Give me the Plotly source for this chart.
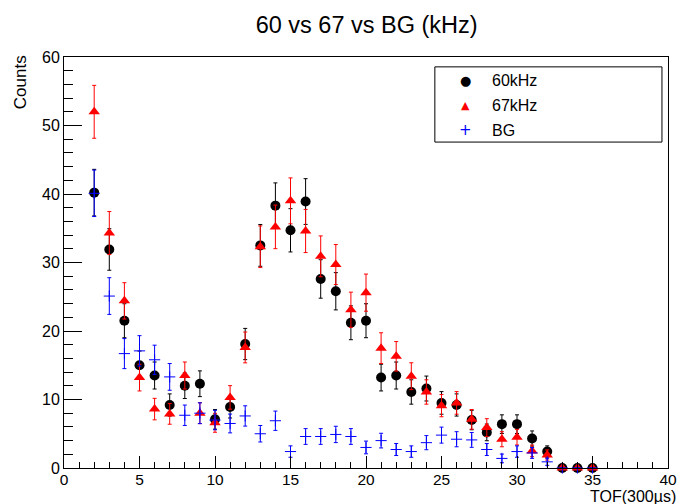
import plotly.graph_objects as go

# Time-of-flight bins (units of 300 us)
tof = list(range(2, 36))

# Counts per bin for each run
counts_60k = [40.2, 31.9, 21.5, 15.0, 13.5, 9.2, 12.0, 12.3, 7.1, 8.9, 18.1, 32.5, 38.3, 34.7,
              38.9, 27.6, 25.8, 21.2, 21.5, 13.2, 13.5, 11.1, 11.6, 9.5, 9.2, 7.0, 5.2, 6.4,
              6.4, 4.3, 2.4, 0, 0, 0]
err_60k = [3.40, 3.03, 2.48, 2.07, 1.97, 1.62, 1.86, 1.88, 1.43, 1.60, 2.28, 3.05, 3.32, 3.16,
           3.34, 2.81, 2.72, 2.47, 2.48, 1.95, 1.97, 1.78, 1.82, 1.65, 1.62, 1.42, 1.22, 1.36,
           1.36, 1.11, 0.83, 0, 0, 0]

counts_67k = [52.0, 34.3, 24.4, 13.2, 8.6, 7.9, 13.5, 8.0, 6.6, 10.3, 17.6, 32.3, 35.2, 39.0,
              34.6, 30.9, 29.7, 23.1, 25.6, 17.5, 16.3, 13.4, 11.1, 9.1, 9.5, 7.1, 5.9, 4.2,
              4.5, 2.5, 1.9, 0, 0, 0]
err_67k = [3.86, 3.14, 2.65, 1.95, 1.57, 1.51, 1.97, 1.52, 1.38, 1.72, 2.25, 3.04, 3.18, 3.35,
           3.15, 2.98, 2.92, 2.57, 2.71, 2.24, 2.16, 1.96, 1.78, 1.62, 1.65, 1.43, 1.30, 1.10,
           1.14, 0.85, 0.74, 0, 0, 0]

counts_bg = [40.1, 25.1, 16.7, 17.1, 15.8, 13.3, 7.7, 8.0, 7.0, 6.5, 7.6, 5.0, 6.9, 2.4,
             4.6, 4.6, 4.9, 4.6, 3.0, 4.0, 2.7, 2.4, 3.7, 4.8, 4.2, 4.1, 2.7, 1.4,
             2.4, 2.2, 0.9, 0, 0, 0]
err_bg = [3.39, 2.68, 2.19, 2.22, 2.13, 1.95, 1.49, 1.52, 1.42, 1.37, 1.48, 1.20, 1.41, 0.83,
          1.15, 1.15, 1.19, 1.15, 0.93, 1.07, 0.88, 0.83, 1.03, 1.17, 1.10, 1.08, 0.88, 0.63,
          0.83, 0.79, 0.51, 0, 0, 0]

series_names = ["60kHz", "67kHz", "BG"]

FONT = "Liberation Sans, Arial, Helvetica, sans-serif"

fig = go.Figure()

fig.add_trace(go.Scatter(
    x=tof, y=counts_60k, mode="markers", name=series_names[0],
    marker=dict(symbol="circle", size=10, color="black"),
    error_y=dict(type="data", array=err_60k, color="black", thickness=1, width=2),
    cliponaxis=False,
))
fig.add_trace(go.Scatter(
    x=tof, y=counts_67k, mode="markers", name=series_names[1],
    marker=dict(symbol="triangle-up", size=10, color="red"),
    error_y=dict(type="data", array=err_67k, color="red", thickness=1, width=2),
    cliponaxis=False,
))
fig.add_trace(go.Scatter(
    x=tof, y=counts_bg, mode="markers", name=series_names[2],
    marker=dict(symbol="cross-thin", size=8, color="blue", line=dict(color="blue", width=1)),
    error_y=dict(type="data", array=err_bg, color="blue", thickness=1, width=2),
    cliponaxis=False,
))

fig.update_layout(
    width=679, height=504,
    margin=dict(l=64, r=11, t=57, b=36, autoexpand=False),
    paper_bgcolor="white", plot_bgcolor="white",
    showlegend=False,
    font=dict(family=FONT, size=16, color="black"),
    title=dict(text="60 vs 67 vs BG (kHz)", x=0.54, xanchor="center", y=0.951, yanchor="middle",
               font=dict(family=FONT, size=23.5, color="black")),
)

fig.update_xaxes(
    range=[0, 40], showgrid=False, zeroline=False, automargin=False,
    showline=True, linecolor="black", linewidth=1, mirror=True,
    ticks="inside", ticklen=12, tickcolor="black", dtick=5, tick0=0,
    minor=dict(ticks="inside", ticklen=6, dtick=1, tickcolor="black", showgrid=False),
    tickfont=dict(family=FONT, size=15.5), ticklabelstandoff=-3,
)
fig.update_yaxes(
    range=[0, 60], showgrid=False, zeroline=False, automargin=False,
    showline=True, linecolor="black", linewidth=1, mirror=True,
    ticks="inside", ticklen=18, tickcolor="black", dtick=10, tick0=0,
    minor=dict(ticks="inside", ticklen=9, dtick=2, tickcolor="black", showgrid=False),
    tickfont=dict(family=FONT, size=16),
)

# Axis titles, aligned to the axis ends
fig.add_annotation(text="TOF(300\u00b5s)", xref="paper", yref="paper", x=1.016, y=-0.069,
                   xanchor="right", yanchor="middle", showarrow=False,
                   font=dict(family=FONT, size=16))
fig.add_annotation(text="Counts", xref="paper", yref="paper", x=-0.072, y=1.008,
                   xanchor="center", yanchor="top", textangle=-90, showarrow=False,
                   font=dict(family=FONT, size=17))

# Legend box
fig.add_shape(type="rect", xref="paper", yref="paper", x0=0.614, x1=0.990, y0=0.793, y1=0.976,
              line=dict(color="black", width=1), fillcolor="white", layer="above")
legend_symbols = ["\u25cf", "\u25b2", "+"]
legend_colors = ["black", "red", "blue"]
legend_sizes = [13, 11, 15]
legend_rows = [0.944, 0.883, 0.822]
for sym, col, sz, yy, name in zip(legend_symbols, legend_colors, legend_sizes, legend_rows, series_names):
    fig.add_annotation(text=sym, xref="paper", yref="paper", x=0.665, y=yy,
                       xanchor="center", yanchor="middle", showarrow=False,
                       font=dict(family="DejaVu Sans", size=sz, color=col))
    fig.add_annotation(text=name, xref="paper", yref="paper", x=0.706, y=yy,
                       xanchor="left", yanchor="middle", showarrow=False,
                       font=dict(family=FONT, size=16, color="black"))

fig.write_html("out.html")
